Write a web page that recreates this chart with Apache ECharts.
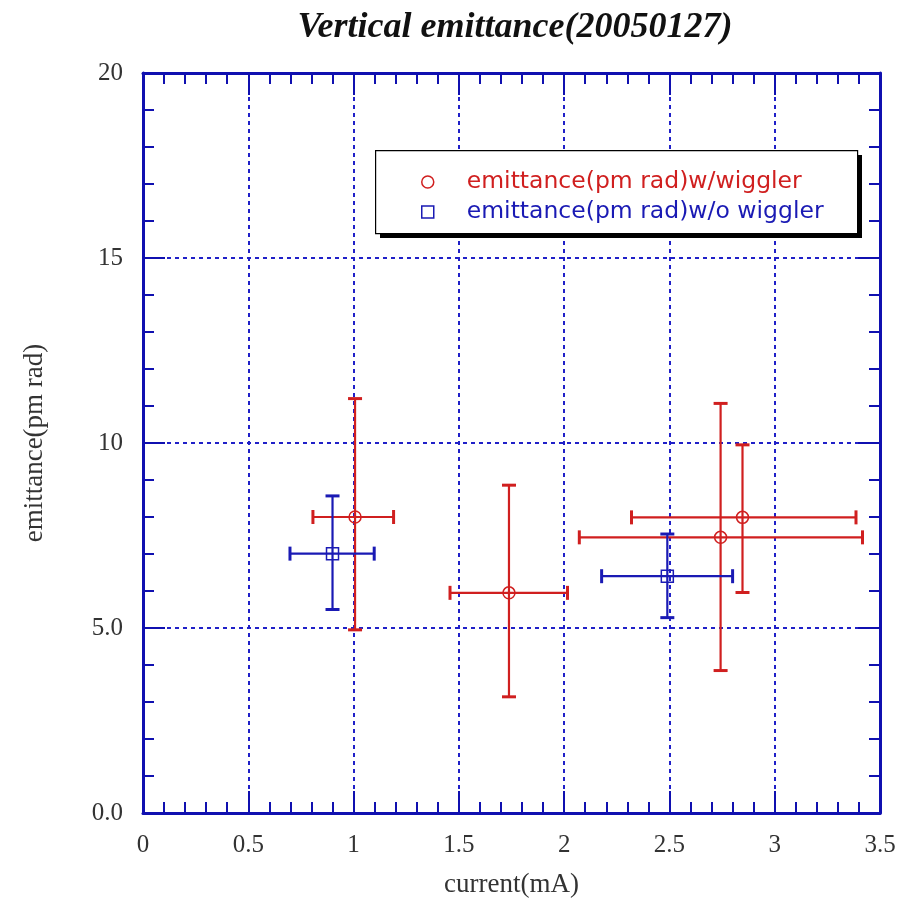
<!DOCTYPE html>
<html>
<head>
<meta charset="utf-8">
<script src="https://cdn.jsdelivr.net/npm/echarts@6/dist/echarts.min.js"></script>
<style>
  html, body { margin: 0; padding: 0; background: #fff; }
  #chart { width: 908px; height: 903px; }
</style>
</head>
<body>
<div id="chart"></div>
<script>
// Measurements: current (mA) and vertical emittance (pm rad) with error ranges
const wigX    = [1.007, 1.738, 2.743, 2.847];
const wigY    = [8.0, 5.95, 7.45, 7.99];
const wigXLo  = [0.807, 1.458, 2.072, 2.32];
const wigXHi  = [1.19, 2.016, 3.417, 3.386];
const wigYLo  = [4.95, 3.14, 3.85, 5.96];
const wigYHi  = [11.2, 8.86, 11.07, 9.95];

const noWigX   = [0.90, 2.49];
const noWigY   = [7.01, 6.4];
const noWigXLo = [0.698, 2.178];
const noWigXHi = [1.098, 2.80];
const noWigYLo = [5.5, 5.28];
const noWigYHi = [8.57, 7.54];

const xTicks = [0, 0.5, 1, 1.5, 2, 2.5, 3, 3.5];
const xTickLabels = ['0', '0.5', '1', '1.5', '2', '2.5', '3', '3.5'];
const yTicks = [0, 5, 10, 15, 20];
const yTickLabels = ['0.0', '5.0', '10', '15', '20'];

const seriesNames = ['emittance(pm rad)w/wiggler', 'emittance(pm rad)w/o wiggler'];

const RED = '#d01f1f';
const BLUE = '#1a1ab4';
const AXIS = '#1010b0';
const GRID = '#2020c8';

function rows(x, y, xlo, xhi, ylo, yhi) {
  return x.map((v, i) => [v, y[i], xlo[i], xhi[i], ylo[i], yhi[i]]);
}

// Cross-shaped error bars with end caps in both directions
function errorBars(color) {
  return function (params, api) {
    const c = api.coord([api.value(0), api.value(1)]);
    const l = api.coord([api.value(2), api.value(1)]);
    const r = api.coord([api.value(3), api.value(1)]);
    const b = api.coord([api.value(0), api.value(4)]);
    const t = api.coord([api.value(0), api.value(5)]);
    const cap = 7;
    const thin = { stroke: color, lineWidth: 2.2 };
    const thick = { stroke: color, lineWidth: 3 };
    const line = (x1, y1, x2, y2, s) => ({ type: 'line', shape: { x1, y1, x2, y2 }, style: s });
    return {
      type: 'group',
      children: [
        line(l[0], c[1], r[0], c[1], thin),
        line(l[0], c[1] - cap, l[0], c[1] + cap, thick),
        line(r[0], c[1] - cap, r[0], c[1] + cap, thick),
        line(c[0], t[1], c[0], b[1], thin),
        line(c[0] - cap, t[1], c[0] + cap, t[1], thick),
        line(c[0] - cap, b[1], c[0] + cap, b[1], thick)
      ]
    };
  };
}

function fmt(ticks, labels) {
  return v => {
    const i = ticks.findIndex(t => Math.abs(t - v) < 1e-9);
    return i >= 0 ? labels[i] : '';
  };
}

const baseX = {
  type: 'value', min: 0, max: 3.5, interval: 0.5,
  axisLine: { show: true, onZero: false, lineStyle: { color: AXIS, width: 3 } },
  axisTick: { show: true, inside: true, length: 22, lineStyle: { color: AXIS, width: 2 } },
  minorTick: { show: true, splitNumber: 5, length: 11, lineStyle: { color: AXIS, width: 2 } },
  splitLine: { show: false }
};
const baseY = {
  type: 'value', min: 0, max: 20, interval: 5,
  axisLine: { show: true, onZero: false, lineStyle: { color: AXIS, width: 3 } },
  axisTick: { show: true, inside: true, length: 22, lineStyle: { color: AXIS, width: 2 } },
  minorTick: { show: true, splitNumber: 5, length: 11, lineStyle: { color: AXIS, width: 2 } },
  splitLine: { show: false }
};

const chart = echarts.init(document.getElementById('chart'), null, { renderer: 'canvas' });

chart.setOption({
  backgroundColor: '#ffffff',
  animation: false,
  title: {
    text: 'Vertical emittance(20050127)',
    left: 510, top: 5, textAlign: 'center',
    textStyle: { fontFamily: 'Liberation Serif', fontStyle: 'italic', fontWeight: 'bold', fontSize: 36, color: '#111' }
  },
  grid: { left: 143, top: 73, width: 737, height: 740, containLabel: false },
  xAxis: [
    Object.assign({}, baseX, {
      position: 'bottom',
      name: 'current(mA)', nameLocation: 'middle', nameGap: 58,
      nameTextStyle: { fontFamily: 'Liberation Serif', fontSize: 27, color: '#333' },
      axisLabel: { margin: 20, fontFamily: 'Liberation Serif', fontSize: 25, color: '#333', formatter: fmt(xTicks, xTickLabels) },
      splitLine: { show: true, lineStyle: { color: GRID, width: 2, type: [4, 4] } }
    }),
    Object.assign({}, baseX, { position: 'top', axisLabel: { show: false } })
  ],
  yAxis: [
    Object.assign({}, baseY, {
      position: 'left',
      name: 'emittance(pm rad)', nameLocation: 'middle', nameGap: 95,
      nameTextStyle: { fontFamily: 'Liberation Serif', fontSize: 27, color: '#333' },
      axisLabel: { margin: 20, fontFamily: 'Liberation Serif', fontSize: 25, color: '#333', formatter: fmt(yTicks, yTickLabels) },
      splitLine: { show: true, lineStyle: { color: GRID, width: 2, type: [4, 4] } }
    }),
    Object.assign({}, baseY, { position: 'right', axisLabel: { show: false } })
  ],
  graphic: [
    {
      type: 'rect', z: 50, left: 380, top: 155,
      shape: { width: 482, height: 83 },
      style: { fill: '#000' }
    },
    {
      type: 'rect', z: 51, left: 375, top: 150,
      shape: { width: 482, height: 83 },
      style: { fill: '#fff', stroke: '#000', lineWidth: 1.2 }
    }
  ],
  legend: {
    z: 60, left: 375, top: 150, orient: 'vertical',
    padding: [20, 20, 12, 46], itemGap: 6,
    itemWidth: 12, itemHeight: 12,
    selectedMode: false,
    textStyle: { fontFamily: 'DejaVu Sans', fontSize: 23.5, padding: [0, 0, 0, 28] },
    data: [
      { name: seriesNames[0], icon: 'circle', itemStyle: { color: '#fff', borderColor: RED, borderWidth: 1.5 }, textStyle: { color: RED } },
      { name: seriesNames[1], icon: 'rect', itemStyle: { color: '#fff', borderColor: BLUE, borderWidth: 1.5 }, textStyle: { color: BLUE } }
    ]
  },
  series: [
    {
      type: 'custom', name: seriesNames[0] + ' err', z: 3,
      renderItem: errorBars(RED),
      encode: { x: [0, 2, 3], y: [1, 4, 5] },
      data: rows(wigX, wigY, wigXLo, wigXHi, wigYLo, wigYHi)
    },
    {
      type: 'custom', name: seriesNames[1] + ' err', z: 3,
      renderItem: errorBars(BLUE),
      encode: { x: [0, 2, 3], y: [1, 4, 5] },
      data: rows(noWigX, noWigY, noWigXLo, noWigXHi, noWigYLo, noWigYHi)
    },
    {
      type: 'scatter', name: seriesNames[0], z: 4,
      symbol: 'circle', symbolSize: 12,
      itemStyle: { color: 'rgba(0,0,0,0)', borderColor: RED, borderWidth: 1.5, opacity: 1 },
      data: wigX.map((v, i) => [v, wigY[i]])
    },
    {
      type: 'scatter', name: seriesNames[1], z: 4,
      symbol: 'rect', symbolSize: 12,
      itemStyle: { color: 'rgba(0,0,0,0)', borderColor: BLUE, borderWidth: 1.5, opacity: 1 },
      data: noWigX.map((v, i) => [v, noWigY[i]])
    }
  ]
});
</script>
</body>
</html>
